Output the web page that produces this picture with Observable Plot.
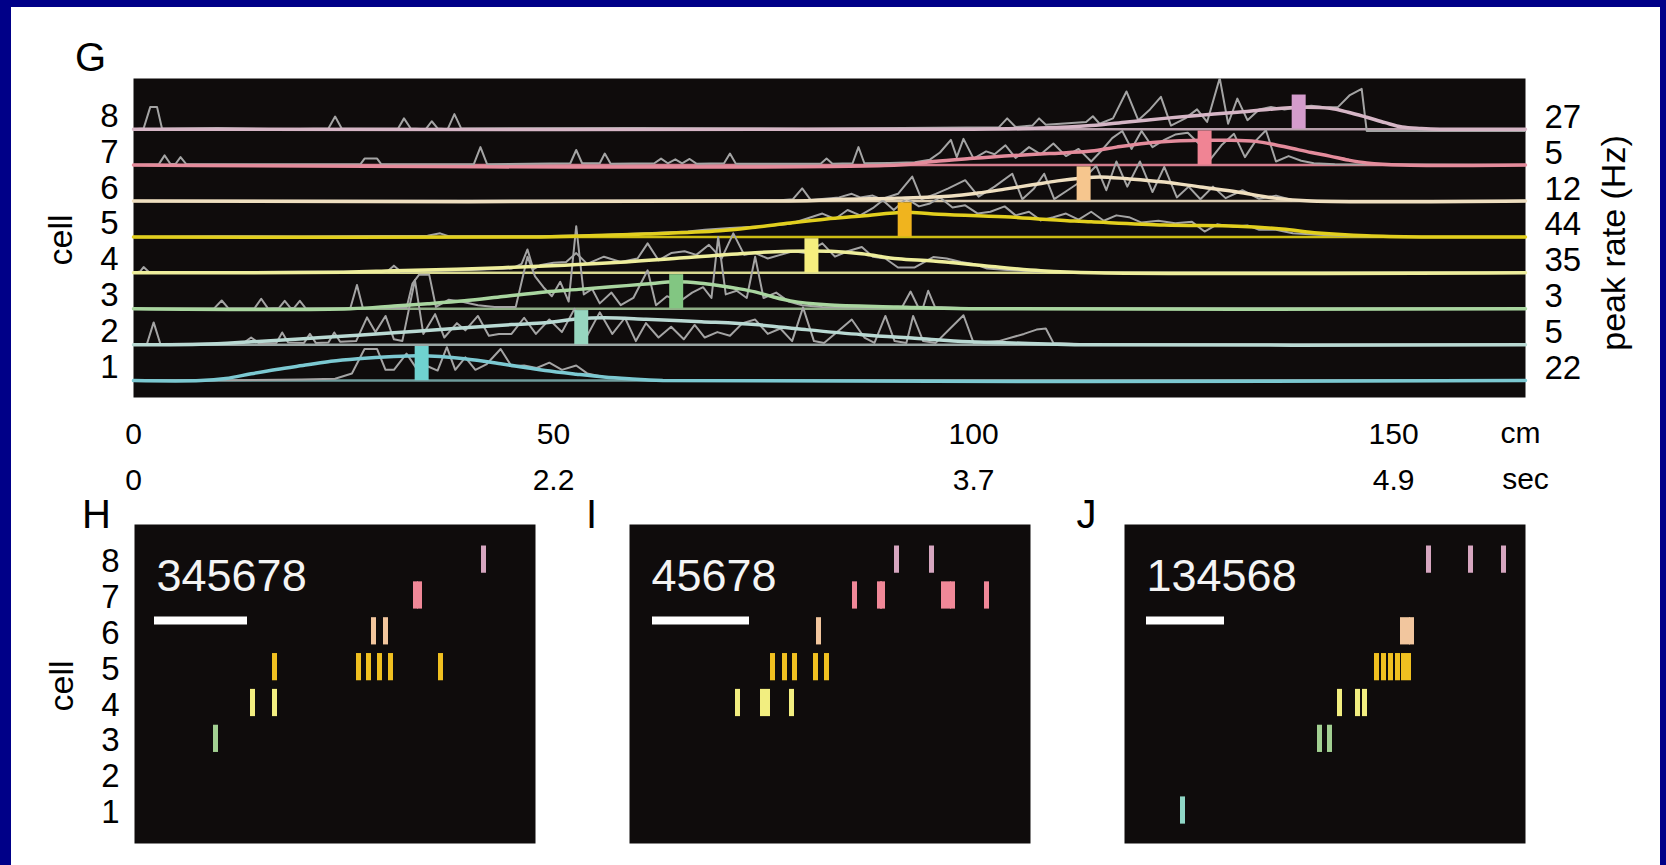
<!DOCTYPE html>
<html><head><meta charset="utf-8">
<script src="https://cdn.jsdelivr.net/npm/d3@7"></script>
<script src="https://cdn.jsdelivr.net/npm/@observablehq/plot@0.6"></script>
<style>
html,body{margin:0;padding:0;}
body{width:1666px;height:865px;background:#000088;position:relative;overflow:hidden;font-family:"Liberation Sans",Arial,sans-serif;}
#sheet{position:absolute;left:11px;top:7px;width:1649px;height:858px;background:#fff;}
.layer{position:absolute;left:0;top:0;width:1666px;}
</style></head><body>
<div id="sheet"></div>
<div id="g" class="layer"></div>
<div id="hij" class="layer" style="top:480px"></div>
<script>
// ---------- data ----------
const cells = [1, 2, 3, 4, 5, 6, 7, 8];
const peakRates = [22, 5, 3, 35, 44, 12, 5, 27];
const cmTicks = [0, 50, 100, 150];
const secLabels = ["0", "2.2", "3.7", "4.9"];
const trackEnd = 165.7;
const fieldPeaks = [34.3, 53.3, 64.6, 80.7, 91.8, 113.1, 127.5, 138.7];

// smoothed mean rate per cell: [cm, height above the cell's baseline]
const mean1 = [[0,0],[8,0],[11,0.06],[14,0.19],[17,0.31],[20.7,0.44],[23.5,0.54],[26.7,0.61],[31,0.67],[34,0.69],[36.5,0.67],[39.4,0.61],[43.7,0.47],[47,0.35],[49,0.28],[52.7,0.18],[56,0.1],[59,0.05],[63,0],[165.7,0]];
const mean2 = [[0,0],[8,0.01],[14,0.08],[22.4,0.2],[31,0.33],[39.4,0.47],[45,0.56],[49,0.61],[53,0.72],[56,0.75],[61,0.71],[67.6,0.64],[74,0.56],[80,0.42],[86.7,0.28],[93,0.18],[99.5,0.08],[105.8,0.04],[112,0],[165.7,0]];
const mean3 = [[0,0],[25.8,0],[31,0.08],[35,0.14],[39.4,0.22],[44,0.34],[49,0.47],[53,0.54],[56.9,0.61],[61,0.69],[64.6,0.75],[67.5,0.71],[69.8,0.64],[72,0.56],[74,0.47],[76,0.34],[78.2,0.22],[82.5,0.11],[91,0.05],[99.5,0],[165.7,0]];
const mean4 = [[0,0],[25,0.02],[31,0.06],[39.4,0.11],[49,0.19],[56.9,0.28],[65.5,0.42],[74,0.56],[78,0.6],[80.7,0.61],[83,0.6],[86.7,0.53],[91,0.39],[95.2,0.33],[101.5,0.19],[108,0.06],[114.4,0],[165.7,0]];
const mean5 = [[0,0],[48.5,0],[55,0.04],[61,0.08],[69.8,0.17],[74,0.27],[78.2,0.39],[82.5,0.5],[86.7,0.58],[91.8,0.69],[95.2,0.64],[103.7,0.56],[112,0.44],[114,0.42],[122.7,0.33],[131.4,0.3],[136.7,0.22],[141,0.11],[146.8,0.03],[153.3,0],[165.7,0]];
const mean6 = [[0,0],[78,0],[84.6,0.05],[91,0.08],[97.4,0.14],[100.5,0.22],[103.7,0.33],[107,0.45],[110,0.56],[113,0.64],[115,0.67],[118.3,0.62],[122.7,0.53],[127,0.39],[131.4,0.25],[135.8,0.08],[140.2,0],[165.7,0]];
const mean7 = [[0,0],[91,0],[95.2,0.1],[99.5,0.18],[103.7,0.25],[109,0.32],[114,0.39],[117,0.5],[120.5,0.61],[124,0.67],[127,0.69],[130,0.69],[133.6,0.66],[136,0.56],[138,0.46],[140.2,0.35],[142.4,0.25],[144.6,0.14],[146.8,0.06],[151,0],[165.7,0]];
const mean8 = [[0,0],[100,0],[108,0.03],[114,0.1],[118.3,0.2],[122.7,0.3],[127,0.39],[131.4,0.47],[135,0.55],[139,0.61],[142.4,0.58],[144.6,0.47],[146.8,0.33],[149,0.18],[151,0.06],[153.3,0.02],[155.5,0],[165.7,0]];

// single-lap rate traces (grey): [cm, height above baseline]
const trial1 = [[0,0],[10,0.01],[20,0.03],[24,0.05],[26,0.2],[27.5,0.88],[29,0.88],[30,0.3],[31,0.3],[32.5,0.75],[33.8,0.3],[35,0.4],[36.2,0.28],[37.3,0.93],[38.3,0.3],[39.5,0.65],[40.7,0.3],[42,0.45],[43.7,0.88],[45,0.4],[46.5,0.42],[48,0.35],[49.5,0.5],[51,0.3],[52.7,0.42],[54,0.2],[56,0.1],[58,0.05],[62,0],[165.7,0]];
const trial2 = [[0,0],[1.6,0.02],[2.4,0.62],[3.2,0.02],[13,0.03],[14,0.2],[15,0.03],[17,0.05],[17.7,0.34],[18.4,0.06],[20.3,0.05],[21,0.3],[21.7,0.05],[23.2,0.06],[23.9,0.34],[24.6,0.08],[26.5,0.1],[27.8,0.76],[28.8,0.35],[30,0.8],[31,0.15],[32,0.1],[33.5,1.8],[34.5,0.3],[35.9,0.85],[37,0.2],[38.5,0.6],[39.5,0.4],[41,0.8],[42.3,0.25],[43.5,0.3],[45,0.3],[46.5,0.75],[47.9,0.3],[49.5,0.7],[51,0.35],[52.5,1.0],[54,0.25],[55.5,0.9],[57,0.3],[58.5,0.75],[59.8,0.1],[61,0.6],[62.5,0.2],[64,0.5],[65.5,0.15],[66.8,0.55],[68,0.2],[69.5,0.35],[71,0.25],[72.5,0.6],[74,0.7],[75.5,0.3],[77,0.45],[78.4,0.1],[79.7,1.04],[81,0.1],[82.2,0.05],[84,0.4],[85.5,0.7],[87,0.2],[88.2,0.05],[89.5,0.8],[90.6,0.1],[92,0.05],[92.8,0.8],[94,0.1],[95.5,0.05],[97,0.4],[98.8,0.82],[100,0.05],[103,0.1],[106,0.3],[107.5,0.42],[108.6,0.45],[109.5,0.05],[115,0],[165.7,0]];
const trial3 = [[0,0],[9.6,0.01],[10.5,0.23],[11.3,0.01],[14.4,0.01],[15.2,0.28],[16,0.01],[17.3,0.02],[18,0.22],[18.7,0.02],[19.1,0.02],[19.8,0.22],[20.5,0.01],[25.8,0.01],[26.6,0.66],[27.3,0.02],[32.5,0.02],[33.2,0.7],[34,0.95],[35.2,0.95],[36,0.05],[37.5,0.25],[39,0.2],[41,0.1],[43,0.05],[45.5,0.05],[46.9,1.45],[47.8,0.9],[48.8,0.6],[49.8,0.35],[50.8,0.75],[51.8,0.2],[52.7,2.3],[53.6,0.4],[54.6,0.55],[55.5,0.15],[56.9,0.45],[58,0.1],[59.5,0.3],[61.2,1.07],[62.2,0.1],[63.5,0.35],[65,0.2],[66.5,0.45],[67.8,0.6],[68.8,0.3],[69.6,2.0],[70.5,0.4],[71.8,0.5],[73,0.3],[74,1.45],[75,0.3],[76.5,0.45],[78,0.2],[79.6,0.1],[82,0.05],[88,0.03],[91.5,0.05],[92.5,0.48],[93.4,0.05],[94,0.05],[94.6,0.5],[95.4,0.05],[100,0.01],[165.7,0]];
const trial4 = [[0,0],[0.8,0.04],[1.2,0.16],[1.8,0.03],[10,0.02],[20,0.03],[30.2,0.04],[31,0.2],[31.8,0.04],[40,0.08],[45,0.12],[46.2,0.25],[46.9,0.65],[47.6,0.1],[48.5,0.22],[50,0.28],[51.5,0.3],[52.7,0.55],[54,0.25],[56,0.45],[58,0.3],[60,0.4],[61.2,0.82],[62.5,0.35],[64,0.55],[65.6,0.6],[67,0.5],[68.5,0.78],[70,0.4],[71.4,1.1],[72.7,0.5],[74,0.55],[75.5,0.4],[77,0.5],[78.5,0.6],[80,0.55],[82,0.82],[83.5,0.45],[85,0.6],[86.7,0.72],[88,0.45],[89.5,0.4],[91,0.15],[93,0.15],[95.2,0.44],[96.8,0.4],[98.5,0.3],[100,0.25],[101.6,0.12],[104,0.08],[108,0.03],[115,0],[165.7,0]];
const trial5 = [[0,0],[10,0.02],[20,0.01],[35,0.03],[36.5,0.1],[37.5,0.02],[48,0.02],[55,0.05],[61,0.1],[66,0.15],[68,0.2],[71,0.25],[75,0.3],[78.2,0.37],[80,0.5],[82,0.65],[83.5,0.5],[85,0.75],[86.5,0.6],[88,0.8],[89.2,1.02],[90.5,0.75],[92,1.07],[93.5,0.85],[94.8,0.93],[96,1.1],[97.5,0.82],[99,0.88],[100.5,0.65],[102,0.7],[103.7,0.85],[105,0.6],[106.6,0.7],[108,0.46],[109.5,0.55],[111,0.65],[112.5,0.48],[114,0.7],[115.5,0.45],[117,0.6],[118.5,0.55],[120,0.4],[122,0.45],[124,0.38],[126,0.42],[127.5,0.15],[129,0.35],[131,0.28],[132.6,0.32],[134,0.2],[136,0.2],[138,0.1],[141,0.06],[145,0.02],[150,0],[165.7,0]];
const trial6 = [[0,0],[60,0.01],[77,0.02],[78.5,0.05],[79.6,0.35],[80.6,0.03],[84,0.1],[85.5,0.2],[86.5,0.1],[88,0.15],[89,0.05],[91,0.2],[92.7,0.68],[93.8,0.05],[95.5,0.2],[97,0.35],[99,0.58],[100.6,0.12],[102.5,0.4],[104.6,0.76],[105.8,0.05],[107.2,0.35],[108.4,0.76],[109.6,0.05],[111.2,0.3],[112.8,0.55],[114.6,0.98],[115.8,0.3],[117,1.1],[118.3,0.4],[119.8,1.1],[121.3,0.25],[122.7,0.95],[124.2,0.1],[125.6,0.4],[127,0.05],[128.5,0.4],[130,0.08],[132,0.3],[134,0.06],[136,0.15],[138,0.02],[140,0],[165.7,0]];
const trial7 = [[0,0],[3,0.02],[3.7,0.27],[4.4,0.03],[5,0.03],[5.6,0.22],[6.3,0.02],[27,0.02],[27.5,0.18],[29,0.18],[29.5,0.02],[40.5,0.02],[41.3,0.5],[42.1,0.02],[52,0.05],[52.7,0.42],[53.4,0.05],[55.5,0.05],[56.1,0.32],[56.8,0.04],[62,0.05],[62.8,0.18],[63.6,0.05],[64.5,0.16],[65.3,0.05],[66.2,0.17],[67,0.04],[70.3,0.05],[71,0.32],[71.7,0.04],[81.8,0.04],[82.5,0.18],[83.2,0.04],[85.6,0.05],[86.3,0.5],[87,0.05],[90,0.06],[93,0.08],[94.8,0.15],[96,0.35],[97.3,0.7],[98,0.22],[98.8,0.73],[100,0.18],[101.5,0.38],[102.5,0.3],[103.8,0.55],[105,0.2],[106.6,0.5],[108,0.3],[109.5,0.6],[111,0.25],[112.5,0.45],[114,0.1],[115.3,0.42],[116.5,0.75],[117.7,0.95],[118.8,0.45],[120,0.95],[121.3,0.5],[122.7,0.7],[124,0.85],[125.5,0.9],[126.8,0.6],[128,0.1],[129.5,0.55],[131,0.87],[132.3,0.22],[133.6,0.68],[134.8,0.97],[136,0.1],[137.5,0.25],[139,0.12],[140.5,0.05],[143,0.02],[165.7,0]];
const trial8 = [[0,0],[1.2,0.02],[2.0,0.62],[2.8,0.62],[3.4,0.01],[10,0.03],[18,0],[23.2,0.02],[24,0.35],[24.8,0.01],[31.5,0.02],[32.2,0.3],[33,0.02],[34.8,0],[35.5,0.22],[36.2,0.02],[37.4,0],[38.2,0.42],[39,0.02],[60,0.03],[80,0.01],[103,0.05],[104,0.3],[105,0.06],[107,0.1],[107.8,0.3],[108.6,0.12],[113.4,0.2],[114.2,0.36],[115,0.15],[116.6,0.3],[118.2,1.05],[119.6,0.25],[121,0.55],[122.3,0.9],[123.5,0.1],[125.2,0.3],[126.6,0.55],[127.8,0.2],[129.3,1.42],[130.3,0.15],[131.4,0.85],[132.6,0.25],[134,0.55],[135.4,0.62],[137,0.55],[138.6,0.6],[140.2,0.65],[142,0.6],[143.4,0.62],[144.8,0.95],[146.2,1.12],[146.8,-0.05],[165.7,-0.05]];

// spike rasters of three sequences: [time, cell]
const panels = ["H", "I", "J"];
const panelSequences = ["345678", "45678", "134568"];
const spikesH = [[349,8],[281,7],[285,7],[239,6],[251,6],[140,5],[224,5],[234,5],[245,5],[256,5],[306,5],[118,4],[140,4],[81,3]];
const spikesI = [[267,8],[302,8],[225,7],[250,7],[253,7],[314,7],[319,7],[323,7],[357,7],[189,6],[143,5],[155,5],[165,5],[186,5],[197,5],[108,4],[133,4],[138,4],[162,4]];
const spikesJ = [[304,8],[346,8],[379,8],[278,6],[283,6],[287,6],[252,5],[259,5],[266,5],[273,5],[279,5],[284,5],[215,4],[233,4],[240,4],[195,3],[205,3],[58,1]];
const scaleBars = [[20,113],[23,120],[22,100]];

// ---------- styles ----------
const curveColors = ["#7cc9d2","#b9d9d3","#a9d6a0","#eeee9c","#e2cf1e","#efdfc0","#e48c9c","#d6b6c6"];
const baseColors  = ["#6f9c9c","#9aa6a4","#8fae86","#d8d890","#cdbd14","#d9c9ae","#d27c8c","#b8a0ac"];
const markColors  = ["#6fd2d0","#97d6bf","#82c682","#f6ee7e","#f0b41e","#f6c68e","#f08494","#d49ccc"];
const spikeColors = ["#8fd6c6","#97d6bf","#a2d092","#f2ee80","#f0c020","#f2c69e","#f08898","#d6a6c0"];
const boxFill = "#0f0c0c";
const font = "'Liberation Sans', Arial, sans-serif";

const means = [mean1, mean2, mean3, mean4, mean5, mean6, mean7, mean8];
const trials = [trial1, trial2, trial3, trial4, trial5, trial6, trial7, trial8];

// ---------- panel G ----------
const gPlot = Plot.plot({
  width: 1666, height: 500,
  marginLeft: 133, marginRight: 141, marginTop: 78, marginBottom: 103,
  style: {fontFamily: font, background: "transparent", color: "black", overflow: "visible"},
  x: {domain: [0, trackEnd]},
  y: {domain: [0.53, 9.41]},
  marks: [
    Plot.frame({fill: boxFill}),
    ...cells.map((c, i) => Plot.ruleY([c], {stroke: baseColors[i], strokeWidth: 2.5})),
    ...cells.map((c, i) => Plot.line(trials[i], {x: d => d[0], y: d => c + d[1], stroke: "#a4a4a4", strokeWidth: 2, clip: true})),
    ...cells.map((c, i) => Plot.line(means[i], {x: d => d[0], y: d => c + d[1], stroke: curveColors[i], strokeWidth: 3.5, curve: "catmull-rom"})),
    Plot.ruleX(cells, {x: (c, i) => fieldPeaks[i], y1: c => c, y2: c => c + 0.95, stroke: (c, i) => markColors[i], strokeWidth: 14}),
    Plot.axisY({ticks: cells, anchor: "left", tickSize: 0, tickPadding: 15, dy: -13, fontSize: 33, label: null}),
    Plot.axisY({ticks: cells, anchor: "right", tickSize: 0, tickPadding: 19, dy: -12, fontSize: 33, label: null, tickFormat: d => String(peakRates[d - 1])}),
    Plot.axisX({ticks: cmTicks, anchor: "bottom", tickSize: 0, tickPadding: 25, fontSize: 30, label: null}),
    Plot.axisX({ticks: cmTicks, anchor: "bottom", tickSize: 0, tickPadding: 71, fontSize: 30, label: null, tickFormat: d => secLabels[cmTicks.indexOf(d)]}),
    Plot.text(["cm"], {text: d => d, frameAnchor: "bottom-right", dx: -5, dy: 36, fontSize: 30, textAnchor: "middle", lineAnchor: "middle"}),
    Plot.text(["sec"], {text: d => d, frameAnchor: "bottom-right", dx: 0, dy: 82, fontSize: 30, textAnchor: "middle", lineAnchor: "middle"}),
    Plot.text(["G"], {text: d => d, frameAnchor: "top-left", dx: -43, dy: -20, fontSize: 40, textAnchor: "middle", lineAnchor: "middle"}),
    Plot.text(["cell"], {text: d => d, frameAnchor: "left", dx: -72, dy: 2, rotate: -90, fontSize: 34, textAnchor: "middle", lineAnchor: "middle"}),
    Plot.text(["peak rate (Hz)"], {text: d => d, frameAnchor: "right", dx: 89, dy: 5, rotate: -90, fontSize: 34, textAnchor: "middle", lineAnchor: "middle"})
  ]
});
document.getElementById("g").append(gPlot);

// ---------- panels H, I, J ----------
const spikeLists = [spikesH, spikesI, spikesJ];
const spikes = panels.flatMap((p, k) => spikeLists[k].map(([t, c]) => ({panel: p, t, cell: c})));
const bars = panels.map((p, k) => ({panel: p, x1: scaleBars[k][0], x2: scaleBars[k][1]}));
const seqLabels = panels.map((p, k) => ({panel: p, text: panelSequences[k]}));
const barRow = 6.3;

const hijPlot = Plot.plot({
  width: 1666, height: 385,
  marginLeft: 133, marginRight: 141, marginTop: 44, marginBottom: 22,
  style: {fontFamily: font, background: "transparent", color: "black", overflow: "visible"},
  fx: {domain: panels, paddingInner: 0.19, paddingOuter: 0, axis: null},
  x: {domain: [0, 401], axis: null},
  y: {domain: [0.08, 8.98]},
  marks: [
    Plot.frame({fill: boxFill}),
    Plot.ruleX(spikes, {fx: "panel", x: "t", y1: d => d.cell - 0.38, y2: d => d.cell + 0.38, stroke: d => spikeColors[d.cell - 1], strokeWidth: 5}),
    Plot.ruleY(bars, {fx: "panel", y: () => barRow, x1: "x1", x2: "x2", stroke: "white", strokeWidth: 8}),
    Plot.text(seqLabels, {fx: "panel", text: "text", frameAnchor: "top-left", dx: 22, dy: 66, fontSize: 45, fill: "#f4f4f4", textAnchor: "start", lineAnchor: "bottom"}),
    Plot.text(panels, {fx: d => d, text: d => d, frameAnchor: "top-left", dx: -38, dy: -9, fontSize: 40, textAnchor: "middle", lineAnchor: "middle"}),
    Plot.text([{panel: "H", text: "cell"}], {fx: "panel", text: "text", frameAnchor: "left", dx: -72, dy: 2, rotate: -90, fontSize: 34, textAnchor: "middle", lineAnchor: "middle"}),
    Plot.axisY({ticks: cells, anchor: "left", tickSize: 0, tickPadding: 15, dy: 2, fontSize: 33, label: null})
  ]
});
document.getElementById("hij").append(hijPlot);
</script>
</body></html>
